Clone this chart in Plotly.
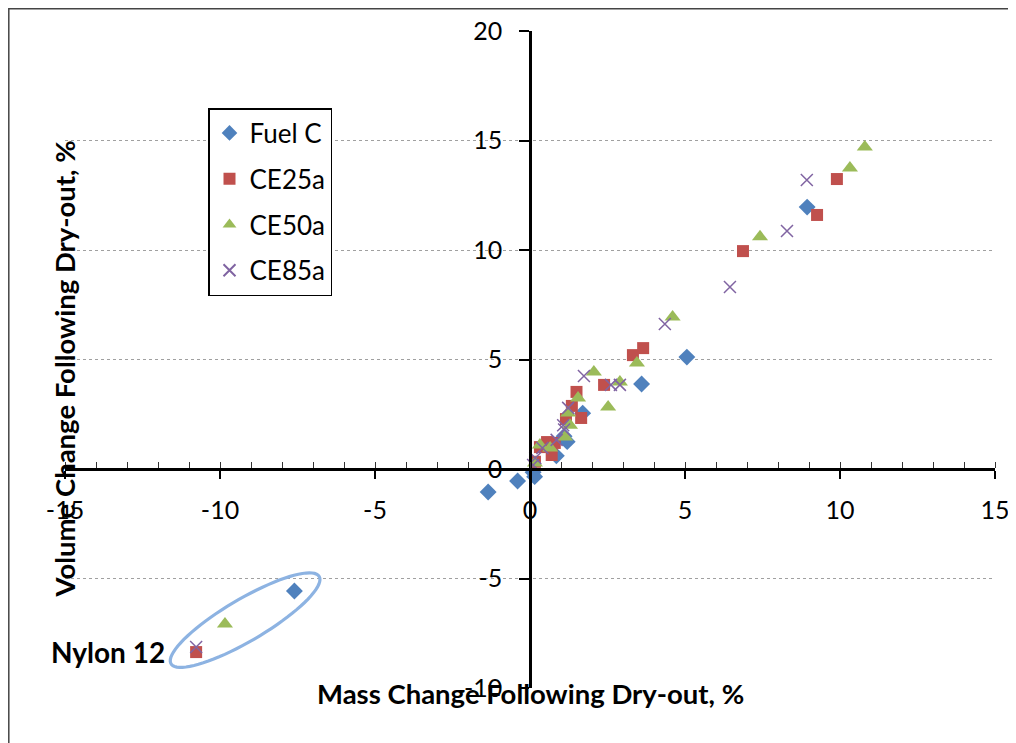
import numpy as np
import plotly.graph_objects as go

# ---- data ----
fuelc_x = [-7.6, -1.35, -0.4, 0.1, 0.15, 0.85, 1.2, 1.1, 1.7, 3.6, 5.06, 8.94]
fuelc_y = [-5.57, -1.05, -0.55, -0.15, -0.35, 0.6, 1.25, 1.5, 2.55, 3.88, 5.11, 11.96]

ce25_x = [-10.77, 0.16, 0.32, 0.55, 0.7, 0.8, 1.16, 1.35, 1.5, 1.65, 2.39, 3.32, 3.65, 6.87, 9.26, 9.9]
ce25_y = [-8.36, 0.33, 1.0, 1.23, 0.64, 1.19, 2.28, 2.88, 3.52, 2.33, 3.84, 5.2, 5.52, 9.95, 11.6, 13.24]

ce50_x = [-9.84, 0.16, 0.32, 0.65, 1.13, 1.23, 1.29, 1.55, 2.06, 2.52, 2.9, 3.45, 4.6, 7.42, 10.32, 10.8]
ce50_y = [-7.08, 0.27, 1.1, 0.96, 1.46, 2.56, 2.0, 3.24, 4.43, 2.83, 3.97, 4.84, 6.94, 10.6, 13.74, 14.7]

ce85_x = [-10.77, 0.1, 0.17, 0.4, 0.86, 1.07, 1.1, 1.23, 1.74, 2.61, 2.9, 4.35, 6.45, 8.29, 8.93]
ce85_y = [-8.13, 0.18, 0.5, 0.96, 1.33, 2.0, 1.8, 2.79, 4.25, 3.84, 3.84, 6.62, 8.31, 10.87, 13.2]

series_names = ["Fuel C", "CE25a", "CE50a", "CE85a"]
x_ticks = [-15, -10, -5, 0, 5, 10, 15]
x_tick_text = ["-15", "-10", "-5", "0", "5", "10", "15"]
y_ticks = [-10, -5, 0, 5, 10, 15, 20]
y_tick_text = ["-10", "-5", "0", "5", "10", "15", "20"]

FONT = "Lato"
blue, red, green, purple = "#4F81BD", "#C0504D", "#9BBB59", "#8064A2"

# page has an 8px body margin -> compensate
OFF = 8
L, T, PW, PH = 65 - OFF, 31 - OFF, 930, 657
W, H = 1008, 735
R, B = W - L - PW, H - T - PH

fig = go.Figure()
fig.add_trace(go.Scatter(x=fuelc_x, y=fuelc_y, mode="markers", name=series_names[0],
                         legendgroup="a",
                         marker=dict(symbol="diamond", size=13, color=blue)))
fig.add_trace(go.Scatter(x=ce25_x, y=ce25_y, mode="markers", name=series_names[1],
                         legendgroup="b",
                         marker=dict(symbol="square", size=12, color=red)))
fig.add_trace(go.Scatter(x=ce50_x, y=ce50_y, mode="markers", name=series_names[2],
                         legendgroup="c",
                         marker=dict(symbol="triangle-up", size=14, color=green)))
fig.add_trace(go.Scatter(x=ce85_x, y=ce85_y, mode="markers", name=series_names[3],
                         legendgroup="d",
                         marker=dict(symbol="x-thin", size=12, color=purple,
                                     line=dict(color=purple, width=1.5))))

# ellipse around Nylon 12 points (decoration)
px_per_x, px_per_y = PW / 30.0, PH / 30.0
cx, cy, a, b, ang = -9.19, -6.9, 86, 21, np.deg2rad(30.5)
t = np.linspace(0, 2 * np.pi, 80)
ex = cx + (a * np.cos(ang) * np.cos(t) - b * np.sin(ang) * np.sin(t)) / px_per_x
ey = cy + (a * np.sin(ang) * np.cos(t) + b * np.cos(ang) * np.sin(t)) / px_per_y
path = "M " + " L ".join(f"{xx:.4f},{yy:.4f}" for xx, yy in zip(ex, ey)) + " Z"
fig.add_shape(type="path", path=path, xref="x", yref="y",
              line=dict(color="#8DB3E2", width=3.2), layer="above")

# chart frame (only top/left visible in the reference)
fig.add_shape(type="rect", xref="paper", yref="paper",
              x0=(0.8 - L) / PW, x1=(1060 - L) / PW,
              y0=1 - (790 - T) / PH, y1=1 - (0.8 - T) / PH,
              line=dict(color="#444", width=1.5), layer="below")

fig.add_annotation(text="<b>Nylon 12</b>", x=-13.6, y=-8.36, xref="x", yref="y",
                   showarrow=False, font=dict(family=FONT, size=28, color="black"))
fig.add_annotation(text="<b>Mass Change Following Dry-out, %</b>", x=0.5,
                   y=1 - (712 - OFF - T) / PH,
                   xref="paper", yref="paper", showarrow=False,
                   font=dict(family=FONT, size=27.5, color="black"))
fig.add_annotation(text="<b>Volume Change Following Dry-out, %</b>",
                   x=(45 - OFF - L) / PW, y=1 - (369 - OFF - T) / PH,
                   xref="paper", yref="paper", showarrow=False, textangle=-90,
                   font=dict(family=FONT, size=27.5, color="black"))

fig.update_layout(
    width=W, height=H,
    margin=dict(l=L, r=R, t=T, b=B, autoexpand=False),
    paper_bgcolor="white", plot_bgcolor="white",
    font=dict(family=FONT, size=25, color="black"),
    showlegend=True,
    legend=dict(x=(208 - OFF - L) / PW, y=1 - (108 - OFF - T) / PH,
                xanchor="left", yanchor="top",
                bordercolor="black", borderwidth=1.5, bgcolor="white",
                font=dict(family=FONT, size=26, color="black"),
                tracegroupgap=9, itemsizing="constant"),
    xaxis=dict(range=[-15, 15], tickvals=x_ticks, ticktext=x_tick_text,
               showgrid=False, zeroline=False,
               showline=True, linecolor="black", linewidth=2.5,
               anchor="free", position=1 / 3,
               ticks="outside", ticklen=8, tickwidth=1.5, tickcolor="black",
               minor=dict(dtick=1, ticks="inside", ticklen=6, tickwidth=1.2,
                          tickcolor="#333", showgrid=False),
               ticklabelstandoff=10, ticklabeloverflow="allow", fixedrange=True),
    yaxis=dict(range=[-10, 20], tickvals=y_ticks, ticktext=y_tick_text,
               zeroline=False,
               showgrid=True, gridcolor="#A0A0A0", griddash="dot", gridwidth=1,
               showline=True, linecolor="black", linewidth=2.5,
               anchor="free", position=0.5,
               ticks="outside", ticklen=10, tickwidth=1.5, tickcolor="black",
               ticklabelstandoff=12, ticklabeloverflow="allow", fixedrange=True),
)

fig.write_html("out.html")
